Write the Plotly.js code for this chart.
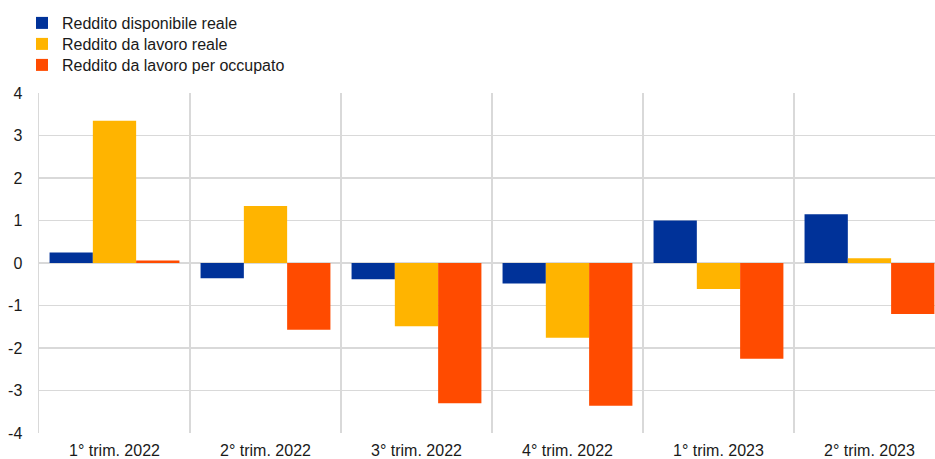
<!DOCTYPE html>
<html>
<head>
<meta charset="utf-8">
<script src="https://cdn.plot.ly/plotly-3.0.1.min.js"></script>
<style>html,body{margin:0;padding:0;background:#fff;overflow:hidden;}#chart{width:935px;height:459px;}</style>
</head>
<body>
<div id="chart"></div>
<script>
const categories = ["1° trim. 2022", "2° trim. 2022", "3° trim. 2022", "4° trim. 2022", "1° trim. 2023", "2° trim. 2023"];
const seriesNames = ["Reddito disponibile reale", "Reddito da lavoro reale", "Reddito da lavoro per occupato"];
const redditoDisponibile = [0.245, -0.36, -0.38, -0.48, 1.0, 1.15];
const redditoLavoro = [3.35, 1.34, -1.49, -1.76, -0.61, 0.11];
const redditoPerOccupato = [0.06, -1.57, -3.30, -3.36, -2.25, -1.20];
const yTicks = [-4, -3, -2, -1, 0, 1, 2, 3, 4];
const colors = ["#003299", "#FFB400", "#FF4B00"];

const values = [redditoDisponibile, redditoLavoro, redditoPerOccupato];
const legendIds = ["legend", "legend2", "legend3"];
const traces = values.map((v, i) => ({
  type: "bar",
  name: seriesNames[i],
  x: categories,
  y: v,
  legend: legendIds[i],
  marker: {color: colors[i], line: {width: 0}},
  hoverinfo: "skip"
}));

function legendAt(topPx) {
  return {
    x: -0.019, y: 1 - topPx / 459, xanchor: "left", yanchor: "top",
    yref: "container",
    orientation: "v",
    font: {size: 16, color: "#1a1a1a"},
    bgcolor: "rgba(0,0,0,0)",
    itemclick: false
  };
}

const layout = {
  width: 935,
  height: 459,
  margin: {l: 38.7, r: 0, t: 92.7, b: 26.3},
  paper_bgcolor: "#ffffff",
  plot_bgcolor: "#ffffff",
  font: {family: "Liberation Sans, Arial, sans-serif", size: 16, color: "#1a1a1a"},
  barmode: "group",
  bargap: 0.14,
  bargroupgap: 0,
  showlegend: true,
  legend: legendAt(6),
  legend2: legendAt(27),
  legend3: legendAt(48),
  xaxis: {
    type: "category",
    range: [-0.5, 5.434],
    showgrid: true,
    gridcolor: "#d9d9d9",
    gridwidth: 1.5,
    tickson: "boundaries",
    ticks: "",
    showline: false,
    zeroline: false,
    ticklabelstandoff: 6,
    tickfont: {size: 16, color: "#1a1a1a"},
    fixedrange: true
  },
  yaxis: {
    range: [-4, 4],
    tickvals: yTicks,
    ticktext: yTicks.map(String),
    showgrid: true,
    gridcolor: "#d9d9d9",
    gridwidth: 1.5,
    zeroline: true,
    zerolinecolor: "#d9d9d9",
    zerolinewidth: 1.5,
    showline: true,
    linecolor: "#d9d9d9",
    linewidth: 1.5,
    ticks: "",
    ticklabelstandoff: 12,
    tickfont: {size: 16, color: "#1a1a1a"},
    fixedrange: true
  }
};

Plotly.newPlot("chart", traces, layout, {staticPlot: true, displayModeBar: false});
</script>
</body>
</html>
